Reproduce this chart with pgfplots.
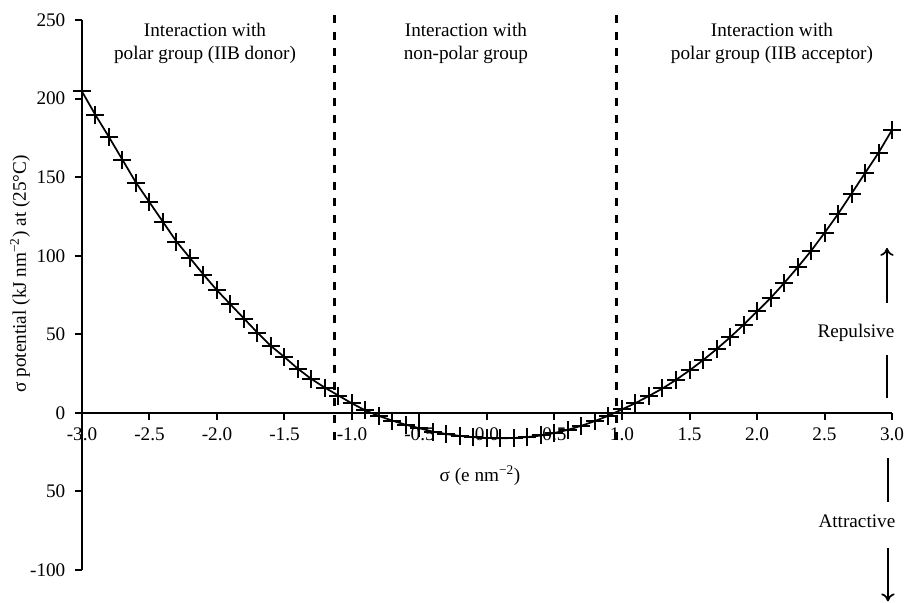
\documentclass[border=0pt]{standalone}
\usepackage{fontspec}
\setmainfont{Liberation Serif}
\usepackage{pgfplots}
\pgfplotsset{compat=1.18}
\usetikzlibrary{arrows.meta}
\pgfplotstableread{
x y
-3.0 204.5
-2.9 189.5
-2.8 175.5
-2.7 161
-2.6 146.5
-2.5 134
-2.4 121.5
-2.3 109
-2.2 98.5
-2.1 88
-2.0 78
-1.9 69
-1.8 60
-1.7 51
-1.6 42.5
-1.5 35.5
-1.4 28
-1.3 21.5
-1.2 16
-1.1 11
-1.0 6
-0.9 1.5
-0.8 -2
-0.7 -5
-0.6 -7.6
-0.5 -9.8
-0.4 -12
-0.3 -13.5
-0.2 -14.7
-0.1 -15.5
0.0 -16
0.1 -16.2
0.2 -16
0.3 -15.4
0.4 -14.4
0.5 -12.8
0.6 -10.8
0.7 -8.2
0.8 -5.2
0.9 -1.8
1.0 2.2
1.1 6.2
1.2 10.8
1.3 15.5
1.4 21
1.5 27
1.6 33.5
1.7 40.5
1.8 48
1.9 56
2.0 64.5
2.1 73
2.2 82.5
2.3 92.5
2.4 103
2.5 114.5
2.6 126.5
2.7 139.5
2.8 152.5
2.9 165.5
3.0 180
}\datatable
\begin{document}
\fontsize{14.4}{17.3}\selectfont
\begin{tikzpicture}
\useasboundingbox (-61.5pt,-24.75pt) rectangle (619.5pt,427.5pt);
\begin{axis}[
  scale only axis,
  width=607.5pt, height=412.5pt,
  xmin=-3, xmax=3, ymin=-100, ymax=250,
  clip=false,
  axis x line*=middle, axis y line*=left,
  hide obscured x ticks=false,
  hide obscured y ticks=false,
  axis line style={line width=1.7pt, black},
  tick style={line width=1.5pt, black},
  major tick length=5.5pt,
  tick align=outside,
  xtick={-3,-2.5,-2,-1.5,-1,-0.5,0,0.5,1,1.5,2,2.5,3},
  xticklabels={-3.0,-2.5,-2.0,-1.5,-1.0,-0.5,0.0,0.5,1.0,1.5,2.0,2.5,3.0},
  ytick={-100,-50,0,50,100,150,200,250},
  yticklabels={-100,50,0,50,100,150,200,250},
  xticklabel style={yshift=-1pt},
  yticklabel style={xshift=-2pt},
]
\addplot[black, line width=1.3pt, mark=+, mark size=6.75pt, mark options={line width=1.5pt}] table[x=x,y=y] {\datatable};
\addplot[black, line width=2.2pt, dash pattern=on 6pt off 6.5pt] coordinates {(-1.133,-17) (-1.133,256)};
\addplot[black, line width=2.2pt, dash pattern=on 6pt off 6.5pt] coordinates {(0.956,-17) (0.956,256)};
\addplot[black, line width=1.3pt, -{To[length=6pt,width=10pt]}] coordinates {(2.963,70) (2.963,105)};
\addplot[black, line width=1.3pt] coordinates {(2.963,9.5) (2.963,37)};
\addplot[black, line width=1.3pt] coordinates {(2.97,-28.6) (2.97,-56.6)};
\addplot[black, line width=1.3pt, -{To[length=6pt,width=10pt]}] coordinates {(2.97,-86) (2.97,-120)};
\node at (axis cs:2.733,51) {Repulsive};
\node at (axis cs:2.74,-69) {Attractive};
\node[align=center] at (axis cs:-2.089,235) {Interaction with\\polar group (IIB donor)};
\node[align=center] at (axis cs:-0.156,235) {Interaction with\\non-polar group};
\node[align=center] at (axis cs:2.111,235) {Interaction with\\polar group (IIB acceptor)};
\node at (axis cs:-0.052,-40) {σ (e nm\textsuperscript{−2})};
\node[rotate=90] at (axis cs:-3.459,88.4) {σ potential (kJ nm\textsuperscript{−2}) at (25°C)};
\end{axis}
\end{tikzpicture}
\end{document}
